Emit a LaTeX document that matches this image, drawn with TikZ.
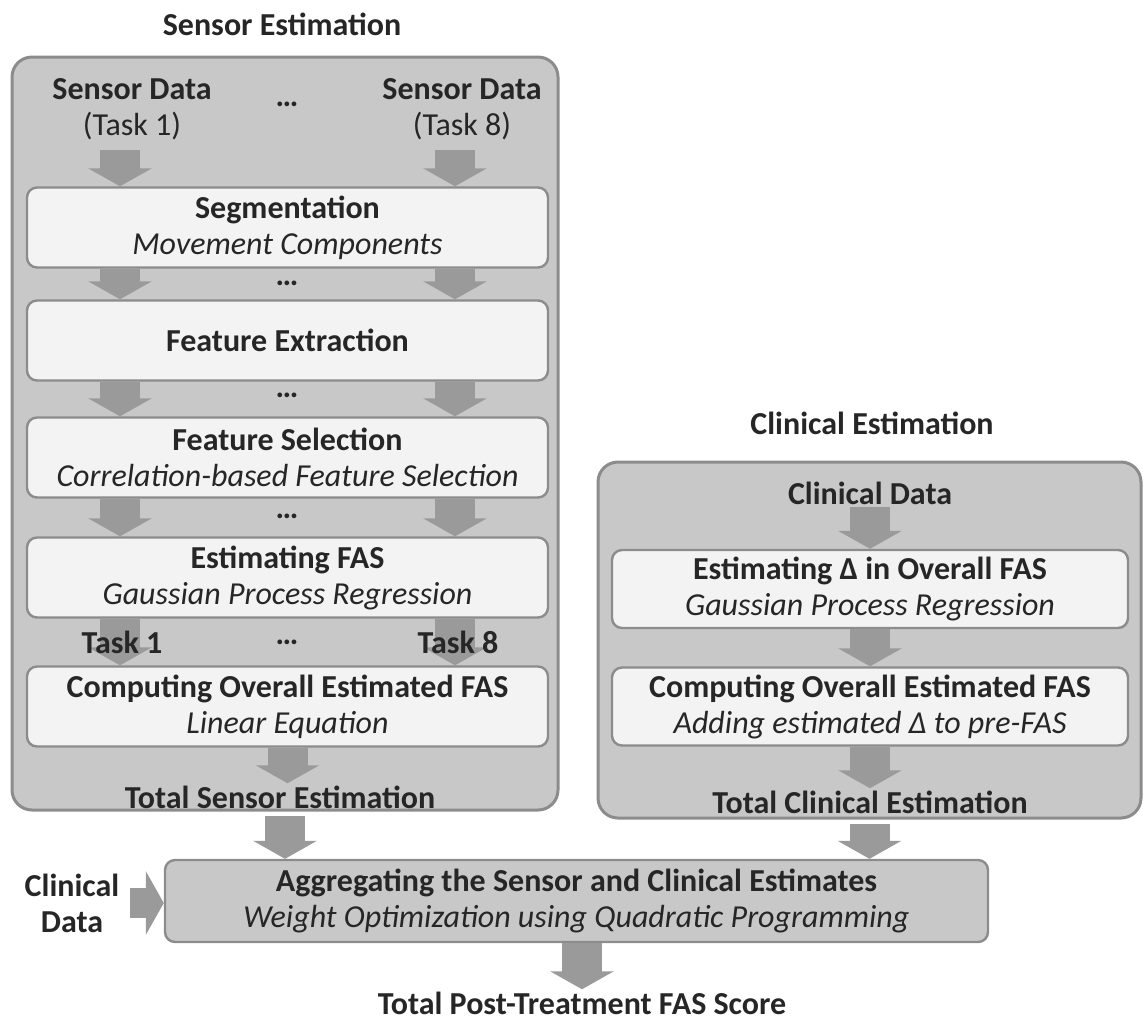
\documentclass[tikz,border=0pt]{standalone}
\usepackage{fontspec}
\setmainfont{Carlito}
\usetikzlibrary{arrows.meta, positioning}
\definecolor{outergray}{HTML}{C8C8C8}
\definecolor{edgegray}{HTML}{8C8C8C}
\definecolor{innerfill}{HTML}{F3F3F3}
\definecolor{arrowgray}{HTML}{9A9A9A}
\definecolor{inktext}{HTML}{262626}

\begin{document}
\begin{tikzpicture}[
    x=0.5pt, y=-0.5pt,
    font=\fontsize{16}{18}\selectfont, text=inktext,
    outer/.style={draw=edgegray, fill=outergray, line width=1.5pt, rounded corners=10pt, inner sep=0pt},
    inner/.style={draw=edgegray, fill=innerfill, line width=1.2pt, rounded corners=5pt, align=center, minimum width=260.5pt, minimum height=40pt, inner sep=0pt},
    lbl/.style={font=\fontsize{16}{18}\selectfont\bfseries, align=center, inner sep=1pt},
    dots/.style={font=\fontsize{16}{18}\selectfont\bfseries, inner sep=0pt},
    barr/.style={draw=arrowgray, line width=20pt, -{Triangle[width=31.5pt, length=9pt]}}
  ]
    \useasboundingbox (0,0) rectangle (1143,1024);
    % group boxes
    \node[outer, minimum width=273pt, minimum height=376.5pt] (sens) at (285,433.5) {};
    \node[outer, minimum width=271.5pt, minimum height=178pt] (clin) at (869.5,640) {};
    \node[lbl] (senstitle) at (282,24) {Sensor Estimation};
    \node[lbl] (clintitle) at (872,423) {Clinical Estimation};
    \coordinate (colL) at (120,0);
    \coordinate (colR) at (455,0);

    % sensor branch
    \node[align=center, inner sep=1pt] (sd1) at (132,109) {\textbf{Sensor Data}\\(Task 1)};
    \node[align=center, inner sep=1pt] (sd8) at (462,109) {\textbf{Sensor Data}\\(Task 8)};
    \node[inner] (seg) at (287.5,227.5) {\textbf{Segmentation}\\\textit{Movement Components}};
    \node[inner] (ext) at (287.5,340.5) {\textbf{Feature Extraction}};
    \node[inner] (sel) at (287.5,457.5) {\textbf{Feature Selection}\\\textit{Correlation-based Feature Selection}};
    \node[inner] (est) at (287.5,577.5) {\textbf{Estimating FAS}\\\textit{Gaussian Process Regression}};
    \node[inner] (comp) at (287.5,706.5) {\textbf{Computing Overall Estimated FAS}\\\textit{Linear Equation}};
    \node[lbl] (senstot) at (280,797) {Total Sensor Estimation};

    % clinical branch
    \node[lbl] (cd) at (870,493) {Clinical Data};
    \node[inner, minimum width=258pt, minimum height=39pt] (delta) at (870,589) {\textbf{Estimating Δ in Overall FAS}\\\textit{Gaussian Process Regression}};
    \node[inner, minimum width=258pt, minimum height=39pt] (cadd) at (870,706.5) {\textbf{Computing Overall Estimated FAS}\\\textit{Adding estimated Δ to pre-FAS}};
    \node[lbl] (clintot) at (870,802) {Total Clinical Estimation};

    % aggregation
    \node[inner, fill=outergray, minimum width=411.5pt, minimum height=41pt] (agg) at (576.5,901) {\textbf{Aggregating the Sensor and Clinical Estimates}\\\textit{Weight Optimization using Quadratic Programming}};
    \node[lbl] (cdata) at (72,903) {Clinical\\Data};
    \node[lbl] (post) at (582,1003) {Total Post-Treatment FAS Score};

    \draw[barr, shorten <=4pt] (sd1.south -| colL) -- (seg.north -| colL);
    \draw[barr, shorten <=4pt] (sd8.south -| colR) -- (seg.north -| colR);
    \foreach \a/\b in {seg/ext, ext/sel, sel/est, est/comp} {
      \draw[barr] (\a.south -| colL) -- (\b.north -| colL);
      \draw[barr] (\a.south -| colR) -- (\b.north -| colR);
    }
    \draw[barr] (comp.south) -- (senstot.north -| comp.south);
    \draw[barr] (cd.south) -- (delta.north);
    \draw[barr] (delta.south) -- (cadd.north);
    \draw[barr] (cadd.south) -- (clintot.north);
    \draw[barr, shorten <=2pt] (sens.south) -- (agg.north -| sens.south);
    \draw[barr, shorten <=2pt] (clin.south) -- (agg.north -| clin.south);
    \draw[barr, line width=15pt, shorten <=4pt] (cdata.east) -- (agg.west |- cdata.east);
    \draw[barr] (agg.south -| post) -- (post.north);

    % labels on top of the arrows
    \foreach \y in {104, 283, 395, 516, 642}
      \node[dots] at (287,\y) {…};
    \node[lbl] (t1) at (122,642) {Task 1};
    \node[lbl] (t8) at (458,642) {Task 8};
  \end{tikzpicture}
\end{document}
